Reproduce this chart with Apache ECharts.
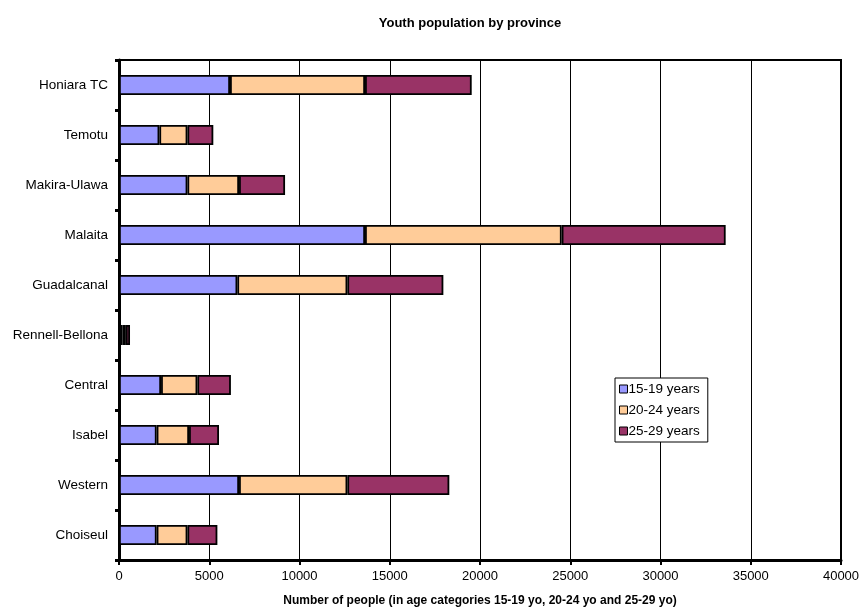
<!DOCTYPE html>
<html>
<head>
<meta charset="utf-8">
<script src="https://cdn.jsdelivr.net/npm/echarts@6/dist/echarts.min.js"></script>
<style>
  html, body { margin: 0; padding: 0; background: #fff; }
  #main { width: 864px; height: 612px; }
</style>
</head>
<body>
<div id="main"></div>
<script>
// provinces, bottom to top as they sit on the axis
var provinces = ['Choiseul', 'Western', 'Isabel', 'Central', 'Rennell-Bellona',
  'Guadalcanal', 'Malaita', 'Makira-Ulawa', 'Temotu', 'Honiara TC'];
var age15to19 = [2085, 6650, 2085, 2330, 200, 6555, 13630, 3790, 2235, 6150];
var age20to24 = [1705, 6000, 1795, 2010, 180, 6095, 10895, 2860, 1555, 7480];
var age25to29 = [1660, 5650, 1660, 1860, 230, 5320, 9085, 2550, 1435, 5910];
var seriesNames = ['15-19 years', '20-24 years', '25-29 years'];
var xTicks = [0, 5000, 10000, 15000, 20000, 25000, 30000, 35000, 40000];

var colors = ['#9999FF', '#FFCC99', '#993366'];
var font = 'Liberation Sans, Arial, sans-serif';

function makeSeries(name, data, color) {
  return {
    name: name,
    type: 'bar',
    stack: 'total',
    barWidth: 20,
    data: data,
    itemStyle: { color: color, borderColor: '#000', borderWidth: 1.8 }
  };
}

var chart = echarts.init(document.getElementById('main'));
chart.setOption({
  animation: false,
  title: {
    text: 'Youth population by province',
    left: 465,
    textAlign: 'center',
    top: 12,
    textStyle: { fontFamily: font, fontSize: 13, fontWeight: 'bold', color: '#000' }
  },
  legend: {
    data: seriesNames,
    orient: 'vertical',
    left: 615,
    top: 378,
    padding: [4, 8, 4, 4],
    itemWidth: 8,
    itemHeight: 8,
    itemGap: 7,
    backgroundColor: '#fff',
    borderColor: '#000',
    borderWidth: 1,
    icon: 'rect',
    itemStyle: { borderColor: '#000', borderWidth: 1 },
    textStyle: { fontFamily: font, fontSize: 13.5, color: '#000', padding: [0, 0, 0, -4] }
  },
  grid: {
    left: 119, right: 23, top: 60, bottom: 50,
    show: true, borderColor: '#000', borderWidth: 2
  },
  xAxis: {
    type: 'value',
    min: xTicks[0],
    max: xTicks[xTicks.length - 1],
    interval: xTicks[1] - xTicks[0],
    name: 'Number of people (in age categories 15-19 yo, 20-24 yo and 25-29 yo)',
    nameLocation: 'middle',
    nameGap: 35,
    nameTextStyle: { fontFamily: font, fontSize: 12, fontWeight: 'bold', color: '#000' },
    axisLine: { show: true, lineStyle: { color: '#000', width: 3 } },
    axisTick: { show: true, length: 5, lineStyle: { color: '#000', width: 2 } },
    axisLabel: { fontFamily: font, fontSize: 13, color: '#000', margin: 10,
      formatter: function (v) { return String(v); } },
    splitLine: { show: true, lineStyle: { color: '#000', width: 1 } }
  },
  yAxis: {
    type: 'category',
    data: provinces,
    axisLine: { show: true, lineStyle: { color: '#000', width: 3 } },
    axisTick: { show: true, length: 4, lineStyle: { color: '#000', width: 3 } },
    axisLabel: { fontFamily: font, fontSize: 13.5, color: '#000', margin: 11 },
    splitLine: { show: false }
  },
  series: [
    makeSeries(seriesNames[0], age15to19, colors[0]),
    makeSeries(seriesNames[1], age20to24, colors[1]),
    makeSeries(seriesNames[2], age25to29, colors[2])
  ]
});
</script>
</body>
</html>
